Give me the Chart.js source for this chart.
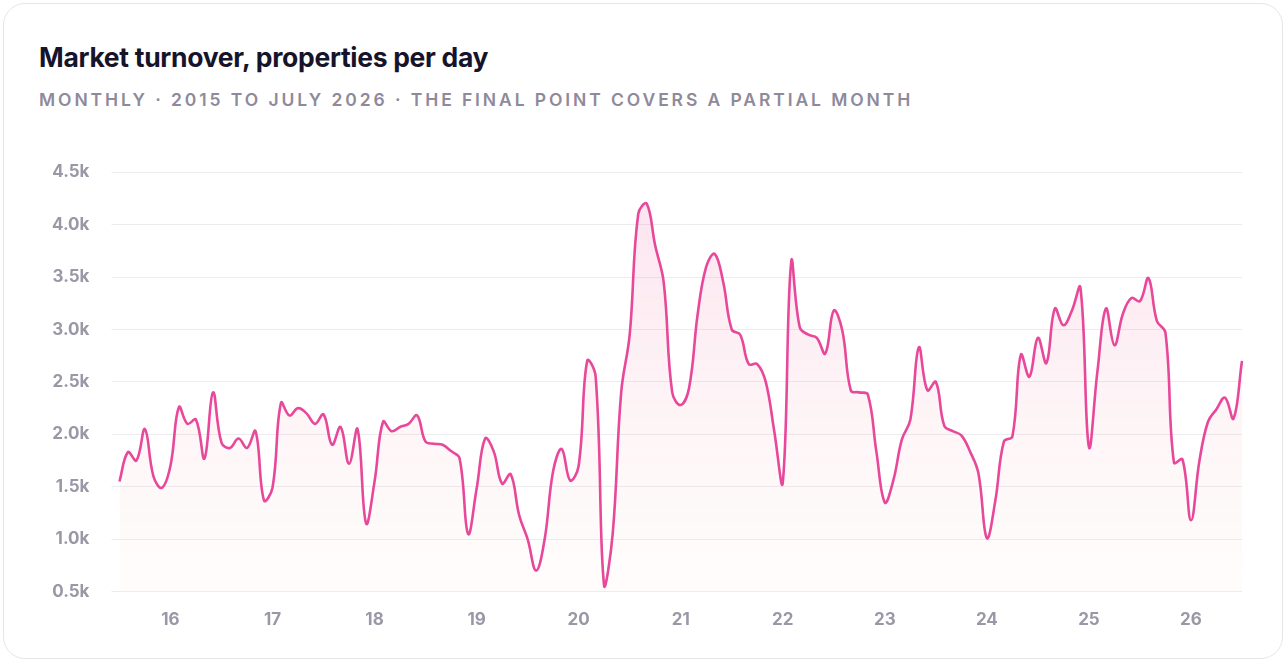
<!DOCTYPE html>
<html><head><meta charset="utf-8">
<script src="https://cdn.jsdelivr.net/npm/chart.js@4"></script>
<style>
html,body{margin:0;padding:0;background:#fff;font-family:Inter,"Noto Sans",sans-serif;}
.card{position:absolute;left:3px;top:3px;width:1280px;height:656px;border:1.5px solid #e6e6ea;border-radius:22px;box-sizing:border-box;}
h1{position:absolute;left:39px;top:41px;margin:0;font-size:26.5px;font-weight:700;color:#16142b;letter-spacing:-0.3px;}
.sub{position:absolute;left:39px;top:89px;font-size:17.5px;font-weight:600;color:#8f8a9b;letter-spacing:2.9px;}
.wrap{position:absolute;left:30px;top:140px;width:1222px;height:500px;}
</style></head><body>
<div class="card"></div>
<h1>Market turnover, properties per day</h1>
<div class="sub">MONTHLY · 2015 TO JULY 2026 · THE FINAL POINT COVERS A PARTIAL MONTH</div>
<div class="wrap"><canvas id="c"></canvas></div>
<script>
const startYear = 2015, startMonth = 7;
const values = [1.55,1.83,1.75,2.05,1.6,1.49,1.7,2.26,2.1,2.14,1.77,2.4,1.92,1.87,1.96,1.87,2.03,1.37,1.49,2.3,2.18,2.25,2.2,2.1,2.19,1.9,2.07,1.72,2.05,1.15,1.55,2.12,2.03,2.07,2.1,2.18,1.93,1.91,1.9,1.84,1.77,1.05,1.48,1.96,1.84,1.53,1.62,1.23,1.0,0.7,1.0,1.65,1.86,1.56,1.7,2.7,2.55,0.55,1.05,2.4,2.95,4.1,4.2,3.8,3.45,2.4,2.28,2.45,3.15,3.6,3.72,3.45,3.0,2.95,2.67,2.67,2.5,2.03,1.54,3.65,3.02,2.95,2.92,2.77,3.18,2.99,2.42,2.4,2.38,1.84,1.35,1.56,1.95,2.14,2.83,2.42,2.5,2.08,2.03,1.99,1.84,1.63,1.01,1.37,1.93,1.98,2.76,2.55,2.92,2.68,3.2,3.04,3.18,3.4,1.88,2.6,3.2,2.85,3.15,3.3,3.27,3.49,3.08,2.97,1.73,1.76,1.18,1.75,2.12,2.24,2.35,2.15,2.7];
const labels = values.map((v,i)=>{const m=(startMonth-1+i)%12+1;const y=startYear+Math.floor((startMonth-1+i)/12);return y+'-'+String(m).padStart(2,'0');});
const yTicks = [0.5,1.0,1.5,2.0,2.5,3.0,3.5,4.0,4.5];
const ctx=document.getElementById('c');
new Chart(ctx,{type:'line',data:{labels,datasets:[{data:values,borderColor:'#e8489a',borderWidth:2.6,pointRadius:0,tension:0.4,fill:true,
 backgroundColor:(c)=>{const a=c.chart.chartArea;if(!a)return 'rgba(232,72,154,0.1)';const g=c.chart.ctx.createLinearGradient(0,a.top,0,a.bottom);g.addColorStop(0,'rgba(232,72,154,0.16)');g.addColorStop(1,'rgba(250,200,180,0.05)');return g;}}]},
 options:{responsive:true,animation:false,maintainAspectRatio:false,
  layout:{padding:{left:0,right:10,top:6,bottom:0}},
  plugins:{legend:{display:false},tooltip:{enabled:false}},
  scales:{
   x:{grid:{display:false},border:{display:false},ticks:{autoSkip:false,maxRotation:0,color:'#9a97a6',font:{size:17,weight:'bold',family:'Inter'},padding:10,
     callback:(v,i)=>labels[i].endsWith('-01')?labels[i].slice(2,4):null}},
   y:{min:0.5,max:4.5,afterBuildTicks:(s)=>{s.ticks=yTicks.map(v=>({value:v}));},border:{display:false},grid:{color:'#ececf0',lineWidth:1},
     ticks:{color:'#9a97a6',font:{size:17,weight:'bold',family:'Inter'},padding:22,callback:v=>v.toFixed(1)+'k'}}
  }}});
</script>
</body></html>
